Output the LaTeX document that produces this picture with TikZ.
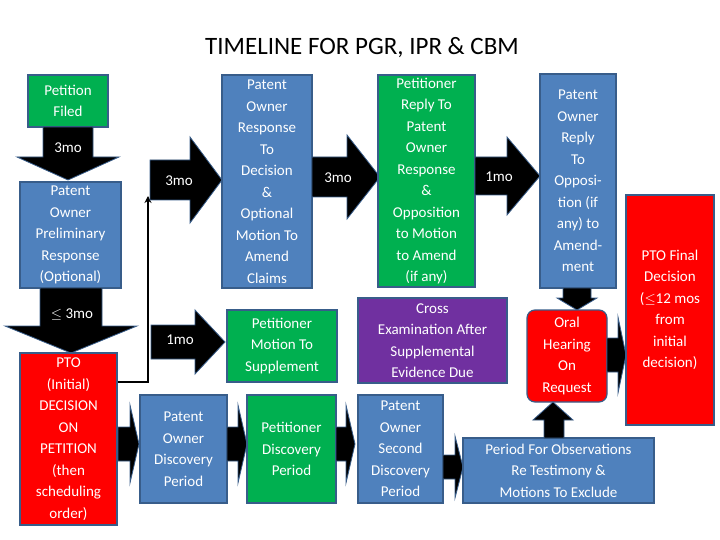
\documentclass[tikz,border=0pt]{standalone}
\usepackage{fontspec}
\setmainfont{Carlito}
\usetikzlibrary{arrows.meta}
\definecolor{poblue}{HTML}{4F81BD}
\definecolor{poedge}{HTML}{385D8A}
\definecolor{petgreen}{HTML}{00B050}
\definecolor{ptored}{HTML}{FF0000}
\definecolor{xpurple}{HTML}{7030A0}
% right arrow: left x, head x, tip x, centre y, body half, head half
\newcommand{\rarr}[6]{%
  \filldraw[arr] (#1,#4-#5) -- (#2,#4-#5) -- (#2,#4-#6) -- (#3,#4)
    -- (#2,#4+#6) -- (#2,#4+#5) -- (#1,#4+#5) -- cycle;}
% down arrow: top y, head y, tip y, centre x, body half, head half
\newcommand{\darr}[6]{%
  \filldraw[arr] (#4-#5,#1) -- (#4-#5,#2) -- (#4-#6,#2) -- (#4,#3)
    -- (#4+#6,#2) -- (#4+#5,#2) -- (#4+#5,#1) -- cycle;}
\tikzset{
  box/.style={draw=poedge, line width=1.2pt, text=white, align=center,
    inner sep=1pt, font=\fontsize{15}{21.5}\selectfont},
  pobox/.style={box, fill=poblue},
  petbox/.style={box, fill=petgreen},
  ptobox/.style={box, fill=ptored},
  xbox/.style={box, fill=xpurple},
  arr/.style={fill=black, draw=poedge, line width=0.8pt},
  alabel/.style={text=white, font=\fontsize{15}{18}\selectfont}
}
\begin{document}
\begin{tikzpicture}[x=1pt,y=-1pt]
  \useasboundingbox (0,0) rectangle (720,540);
  \node[font=\fontsize{25}{30}\selectfont] (title) at (362,48) {TIMELINE FOR PGR, IPR \& CBM};

  % left column
  \node[petbox, minimum width=80, minimum height=52] (filed) at (68,101) {Petition\\Filed};
  \darr{127}{157}{180}{68}{25}{51}
  \node[alabel] (l1) at (68,148) {3mo};
  \node[pobox, minimum width=101, minimum height=106] (prelim) at (70.5,235) {Patent\\Owner\\Preliminary\\Response\\(Optional)};
  \darr{288}{326}{353}{71}{31}{66}
  \node[alabel] (l2) at (72,315) {$\leq$ 3mo};
  \node[ptobox, minimum width=97, minimum height=172] (ptoi) at (68.5,439) {PTO\\(Initial)\\DECISION\\ON\\PETITION\\(then\\scheduling\\order)};

  % branch from initial decision
  \coordinate (bend) at (148,382);
  \coordinate (up) at (148,196);
  \draw[line width=2pt, -{Stealth[length=7pt,width=7pt]}] (ptoi.east |- bend) -- (bend) -- (up);

  % top row
  \rarr{150}{190}{222}{180}{20}{43}
  \node[alabel] (l3) at (179,181) {3mo};
  \node[pobox, minimum width=90, minimum height=213] (poresp) at (267,181.5) {Patent\\Owner\\Response\\To\\Decision\\\&\\Optional\\Motion To\\Amend\\Claims};
  \rarr{312}{347}{380}{177}{20}{42}
  \node[alabel] (l4) at (338,178) {3mo};
  \node[petbox, minimum width=97, minimum height=212] (petreply) at (426.5,181) {Petitioner\\Reply To\\Patent\\Owner\\Response\\\&\\Opposition\\to Motion\\to Amend\\(if any)};
  \rarr{475}{507}{540}{176}{19}{39}
  \node[alabel] (l5) at (499,177) {1mo};
  \node[pobox, minimum width=76, minimum height=214] (poreply) at (578,181) {Patent\\Owner\\Reply\\To\\Opposi-\\tion (if\\any) to\\Amend-\\ment};
  \darr{288}{298}{310}{577}{14}{20}

  % middle row
  \rarr{151}{195}{225}{342}{17}{32}
  \node[alabel] (l6) at (180,340) {1mo};
  \node[petbox, minimum width=110, minimum height=72] (supp) at (282,346) {Petitioner\\Motion To\\Supplement};
  \node[xbox, minimum width=149, minimum height=85] (cross) at (432.5,340.5) {Cross\\Examination After\\Supplemental\\Evidence Due};
  \node[ptobox, rounded corners=8pt, minimum width=80, minimum height=92] (oral) at (567,356) {Oral\\Hearing\\On\\Request};
  \rarr{607}{618}{626}{355}{17}{38}
  \node[ptobox, minimum width=88, minimum height=230] (ptof) at (670,310) {PTO Final\\Decision\\($\leq$12 mos\\from\\initial\\decision)};

  % bottom row
  \rarr{118}{130}{139}{444}{17}{39}
  \node[pobox, minimum width=87, minimum height=108] (podisc) at (183.5,449) {Patent\\Owner\\Discovery\\Period};
  \rarr{227}{238}{247}{444}{17}{39}
  \node[petbox, minimum width=89, minimum height=108] (petdisc) at (291.5,449) {Petitioner\\Discovery\\Period};
  \rarr{336}{346}{355}{444}{17}{39}
  \node[pobox, minimum width=85, minimum height=108] (posecond) at (400.5,449) {Patent\\Owner\\Second\\Discovery\\Period};
  \rarr{443}{455}{463}{467}{12}{31}
  \node[pobox, minimum width=191, minimum height=65] (observ) at (558.5,470.5) {Period For Observations\\Re Testimony \&\\Motions To Exclude};
  \filldraw[arr] (544,438) -- (544,420) -- (533,420) -- (553,402) -- (573,420) -- (564,420) -- (564,438) -- cycle;
\end{tikzpicture}
\end{document}
